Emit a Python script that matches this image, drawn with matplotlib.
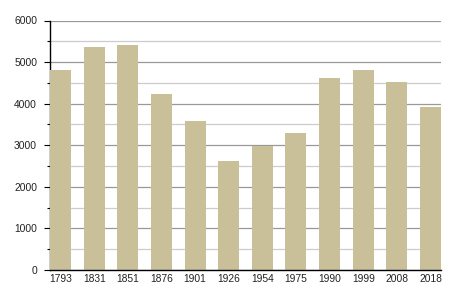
import matplotlib
matplotlib.use("Agg")
import matplotlib.pyplot as plt
from matplotlib.ticker import MultipleLocator

years = ["1793", "1831", "1851", "1876", "1901", "1926", "1954", "1975", "1990", "1999", "2008", "2018"]
population = [4810, 5360, 5410, 4240, 3575, 2615, 2970, 3285, 4610, 4805, 4510, 3920]

plt.rcParams['font.family'] = ['Liberation Sans', 'DejaVu Sans']

fig = plt.figure(figsize=(4.5, 3), dpi=100)
ax = fig.add_axes([50/450, 30/300, 391/450, 249.5/300])

w = 0.625
x = list(range(len(years)))
ax.bar(x, population, width=w, color="#c9bf99", zorder=3)
ax.set_xlim(-w/2, len(years) - 1 + w/2)
ax.set_ylim(0, 6000)
ax.set_xticks(x)
ax.set_xticklabels(years)
ax.yaxis.set_major_locator(MultipleLocator(1000))
ax.yaxis.set_minor_locator(MultipleLocator(500))
ax.grid(axis='y', which='major', color='#999999', linewidth=0.9, zorder=0)
ax.grid(axis='y', which='minor', color='#cccccc', linewidth=0.9, zorder=0)
for s in ['top', 'right']:
    ax.spines[s].set_visible(False)
for s in ['left', 'bottom']:
    ax.spines[s].set_color('black')
    ax.spines[s].set_linewidth(1.0)
ax.spines['bottom'].set_zorder(4)
ax.tick_params(axis='x', length=0, pad=3, labelsize=7.4, colors='#222222')
ax.tick_params(axis='y', which='major', length=4.3, width=0.8, pad=5, labelsize=7.4, labelcolor='#222222')
ax.tick_params(axis='y', which='minor', length=2.2, width=0.8)

fig.savefig("out.png", dpi=100)
